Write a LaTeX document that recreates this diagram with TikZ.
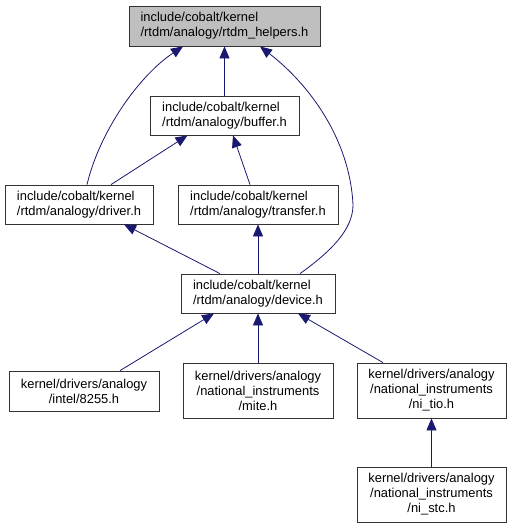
\documentclass[tikz,border=0pt]{standalone}
\usepackage{fontspec}
\setmainfont{Liberation Sans}
\usepackage{xcolor}
\usepackage{tikz}
\usetikzlibrary{arrows.meta, positioning}

\definecolor{edgeblue}{HTML}{191970}
\definecolor{rootgray}{HTML}{BFBFBF}

\begin{document}
\begin{tikzpicture}[x=1pt, y=-1pt, >={Triangle[length=12pt, width=10pt]},
    file/.style={draw=black!80, line width=0.8pt, rectangle, inner sep=0pt,
        font=\fontsize{12.9}{15}\selectfont},
    dep/.style={->, draw=edgeblue, line width=0.8pt}]
                \useasboundingbox (0,0) rectangle (511,528);
                
                % 1. Các tệp tiêu đề
                \node[file, fill=rootgray, align=left, minimum width=191, minimum height=40]
                    (helpers) at (224.5,26) {include/cobalt/kernel\\/rtdm/analogy/rtdm\_helpers.h};
                \node[file, align=left, minimum width=149, minimum height=39]
                    (buffer) at (224.5,115.5) {include/cobalt/kernel\\/rtdm/analogy/buffer.h};
                \node[file, align=left, minimum width=148, minimum height=39]
                    (driver) at (79,204.5) {include/cobalt/kernel\\/rtdm/analogy/driver.h};
                \node[file, align=left, minimum width=160, minimum height=39]
                    (transfer) at (258,204.5) {include/cobalt/kernel\\/rtdm/analogy/transfer.h};
                \node[file, align=left, minimum width=154, minimum height=39]
                    (device) at (258,293.5) {include/cobalt/kernel\\/rtdm/analogy/device.h};
                \node[file, align=center, minimum width=150, minimum height=40]
                    (intel) at (84,391) {kernel/drivers/analogy\\/intel/8255.h};
                \node[file, align=center, minimum width=150, minimum height=55]
                    (mite) at (258,390.5) {kernel/drivers/analogy\\/national\_instruments\\/mite.h};
                \node[file, align=center, minimum width=149, minimum height=55]
                    (nitio) at (431.5,390.5) {kernel/drivers/analogy\\/national\_instruments\\/ni\_tio.h};
                \node[file, align=center, minimum width=149, minimum height=55]
                    (nistc) at (431.5,494.5) {kernel/drivers/analogy\\/national\_instruments\\/ni\_stc.h};
                
                % 2. Các cạnh phụ thuộc
                \draw[dep] (buffer.north) -- (helpers.south);
                \draw[dep] ([xshift=8]driver.north)
                    .. controls (100,130) and (140,75) .. ([xshift=-41.5]helpers.south);
                \draw[dep] ([xshift=42]device.north)
                    .. controls (330,252) and (353,230) .. (353,205)
                    .. controls (350,140) and (310,85) .. ([xshift=35.5]helpers.south);
                \draw[dep] ([xshift=32]driver.north) -- ([xshift=-37]buffer.south);
                \draw[dep] ([xshift=-8]transfer.north) -- ([xshift=8.5]buffer.south);
                \draw[dep] ([xshift=-38]device.north) -- ([xshift=45]driver.south);
                \draw[dep] (device.north) -- (transfer.south);
                \draw[dep] ([xshift=36]intel.north) -- ([xshift=-44]device.south);
                \draw[dep] (mite.north) -- (device.south);
                \draw[dep] ([xshift=-48.5]nitio.north) -- ([xshift=40]device.south);
                \draw[dep] (nistc.north) -- (nitio.south);
            \end{tikzpicture}
\end{document}
